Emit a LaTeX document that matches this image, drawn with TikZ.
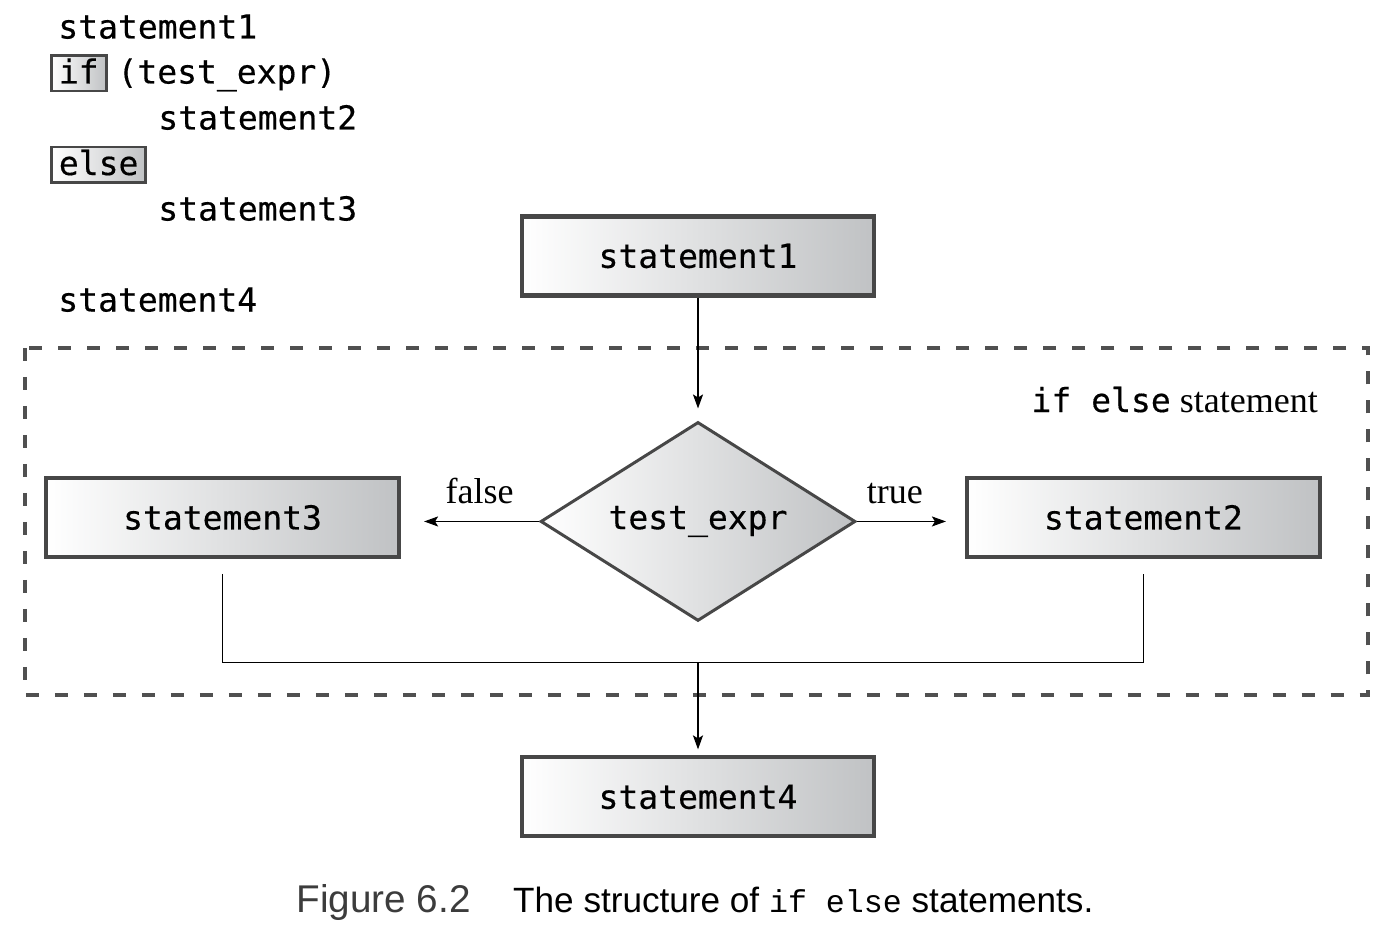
\documentclass[tikz,border=0pt]{standalone}
\usepackage{fontspec}
\setmainfont{Liberation Serif}
\newfontfamily\codefont[FakeBold=0.4]{DejaVu Sans Mono}
\newfontfamily\capfont{Liberation Sans}
\newfontfamily\capmono{Liberation Mono}
\usetikzlibrary{shapes.geometric,positioning,arrows.meta}
\definecolor{boxgray}{HTML}{474747}
\definecolor{shadegray}{HTML}{C0C2C4}
\definecolor{dashgray}{HTML}{505050}
\definecolor{capgray}{HTML}{3C3C3C}
\newcommand{\cde}{\codefont\fontsize{18.8}{22}\selectfont}

\begin{document}
\begin{tikzpicture}
  [x=0.02cm,y=-0.02cm,
   stmtN/.style={draw=boxgray,line width=2.3pt,left color=white,right color=shadegray,
                 minimum width=7.06cm,minimum height=1.58cm,inner sep=0pt,font=\cde},
   testN/.style={diamond,aspect=1.6,draw=boxgray,line width=1.7pt,left color=white,right color=shadegray,
                 minimum width=6.3cm,minimum height=3.98cm,inner sep=0pt,font=\cde},
   keyN/.style={draw=boxgray,line width=1.7pt,left color=white,right color=shadegray,
                anchor=base west,outer sep=0pt,inner xsep=0.15cm,inner ysep=0pt,
                text height=0.56cm,text depth=0.15cm,font=\cde},
   codeN/.style={anchor=base west,inner sep=0pt,font=\cde},
   labelN/.style={font=\fontsize{20.5}{24}\selectfont},
   flow/.style={-{Stealth[length=0.28cm,width=0.2cm,inset=0.06cm]},line width=1pt},
   joinL/.style={line width=1pt},
   groupB/.style={draw=dashgray,line width=1.8pt,dash pattern=on 0.26cm off 0.32cm}]

  \useasboundingbox (0,0) rectangle (1394,936);

  % code on the left
  \node[codeN] (code1)  at (58,38.5)   {statement1};
  \node[keyN]  (kwif)   at (51.4,83.5) {if};
  \node[codeN] (code2)  [base right=0.22cm of kwif] {(test\_expr)};
  \node[codeN] (code3)  at (158,129.5) {statement2};
  \node[keyN]  (kwelse) at (51.4,175)  {else};
  \node[codeN] (code4)  at (158,220.5) {statement3};
  \node[codeN] (code5)  at (58,311.5)  {statement4};

  % flow chart
  \draw[groupB] (25,348) rectangle (1368,695);
  \node[labelN,anchor=base east] (grouplbl) at (1324,412) {{\cde if else} statement};

  \node[stmtN] (s1)   at (698,256) {statement1};
  \node[testN] (test) [below=2.46cm of s1] {test\_expr};
  \node[stmtN] (s3)   [left=2.76cm of test,yshift=0.08cm] {statement3};
  \node[stmtN] (s2)   [right=2.16cm of test,yshift=0.08cm] {statement2};
  \node[stmtN] (s4)   [below=2.66cm of test] {statement4};
  \coordinate[below=0.8cm of test] (join);

  \draw[flow,shorten >=0.24cm] (s1) -- (test);
  \draw[flow,shorten >=0.46cm] (test.west) -- (test.west -| s3.east)
    node[labelN,pos=0.43,above=0.22cm] (lfalse) {false};
  \draw[flow,shorten >=0.38cm] (test.east) -- (test.east -| s2.west)
    node[labelN,pos=0.35,above=0.22cm] (ltrue) {true};
  \draw[joinL] ([yshift=-0.3cm]s3.south) |- (join) -| ([yshift=-0.3cm]s2.south);
  \draw[flow,shorten >=0.12cm] (join) -- (s4);

  % caption
  \node[anchor=base] (caption) at (695,912)
    {{\capfont\fontsize{22}{24}\selectfont\color{capgray}Figure 6.2}\hspace{0.85cm}{\capfont\fontsize{20}{24}\selectfont The structure of {\capmono\fontsize{18}{22}\selectfont if else} statements.}};
\end{tikzpicture}
\end{document}
